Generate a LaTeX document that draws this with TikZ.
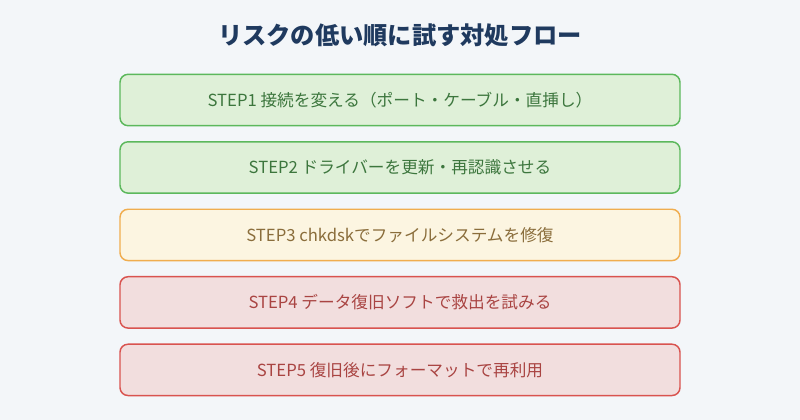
\documentclass[tikz,border=0pt]{standalone}
\usepackage{fontspec}
\setmainfont{Noto Sans CJK JP}
\usetikzlibrary{positioning}
\definecolor{bgc}{HTML}{F3F6F9}
\definecolor{titlec}{HTML}{1F3A5F}
\definecolor{gfill}{HTML}{DFF0D8}
\definecolor{gdraw}{HTML}{5CB85C}
\definecolor{gtext}{HTML}{3C763D}
\definecolor{yfill}{HTML}{FCF5E1}
\definecolor{ydraw}{HTML}{F0AD4E}
\definecolor{ytext}{HTML}{8A6D3B}
\definecolor{rfill}{HTML}{F2DEDE}
\definecolor{rdraw}{HTML}{D9534F}
\definecolor{rtext}{HTML}{A94442}
\tikzset{every picture/.style={line width=0.75pt}}
\tikzset{
  stepbox/.style={draw, rounded corners=6pt, line width=1.1pt, minimum width=420pt, minimum height=38.5pt, inner sep=0pt, font=\fontsize{12.5}{14}\selectfont},
  low/.style={stepbox, fill=gfill, draw=gdraw, text=gtext},
  mid/.style={stepbox, fill=yfill, draw=ydraw, text=ytext},
  high/.style={stepbox, fill=rfill, draw=rdraw, text=rtext}
}

\begin{document}
\begin{tikzpicture}[x=0.75pt,y=0.75pt,yscale=-1,xscale=1]
\fill[bgc] (0,0) rectangle (800,420);

% Title
\node (title) at (400,35) [text=titlec, font=\fontsize{18.2}{21}\bfseries\selectfont] {リスクの低い順に試す対処フロー};

% Steps
\node (step1) at (400,100) [low] {STEP1 接続を変える（ポート・ケーブル・直挿し）};
\node (step2) [low, below=11pt of step1] {STEP2 ドライバーを更新・再認識させる};
\node (step3) [mid, below=11pt of step2] {STEP3 chkdskでファイルシステムを修復};
\node (step4) [high, below=11pt of step3] {STEP4 データ復旧ソフトで救出を試みる};
\node (step5) [high, below=11pt of step4] {STEP5 復旧後にフォーマットで再利用};

\end{tikzpicture}
\end{document}
